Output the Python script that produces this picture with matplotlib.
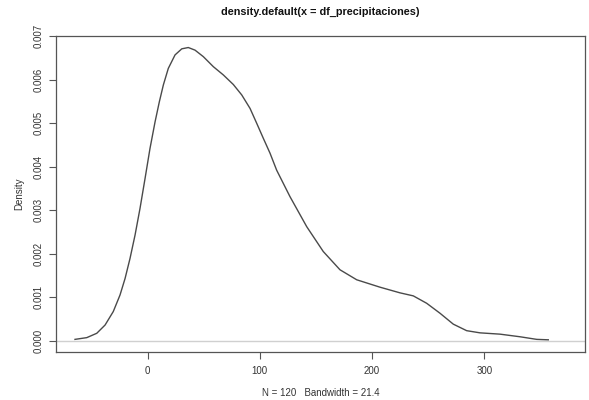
import matplotlib.pyplot as plt

# density curve
dens_x = [-64.6, -54.1, -45.2, -37.8, -30.5, -24.5, -20.0, -15.6, -11.1, -6.7,
          -2.2, 2.2, 6.7, 10.5, 14.1, 18.5, 24.5, 30.5, 36.3, 42.3,
          49.7, 58.6, 67.5, 76.4, 83.9, 91.3, 97.2, 103.0, 109.1, 115.0,
          126.9, 141.8, 156.5, 171.4, 186.3, 207.0, 224.8, 236.7, 248.6, 260.5,
          272.3, 284.2, 296.1, 313.9, 331.7, 346.6, 356.9]
dens_y = [0.00003, 0.00007, 0.00017, 0.00036, 0.00067, 0.00105, 0.00143, 0.00189,
          0.00243, 0.00304, 0.00373, 0.00442, 0.00503, 0.00549, 0.00588, 0.00626,
          0.00657, 0.00671, 0.00674, 0.00668, 0.00653, 0.00630, 0.00611, 0.00589,
          0.00565, 0.00534, 0.00500, 0.00466, 0.00431, 0.00392, 0.00331, 0.00262,
          0.00205, 0.00163, 0.00140, 0.00123, 0.00110, 0.00103, 0.00086, 0.00063,
          0.00038, 0.00023, 0.00018, 0.00015, 0.00009, 0.00003, 0.00002]

x_ticks = [0, 100, 200, 300]
y_ticks = [0.000, 0.001, 0.002, 0.003, 0.004, 0.005, 0.006, 0.007]

title = "density.default(x = df_precipitaciones)"
xlab = "N = 120   Bandwidth = 21.4"
ylab = "Density"

plt.rcParams['font.family'] = ['Liberation Sans', 'DejaVu Sans']
txt = '#333333'

fig = plt.figure(figsize=(5.89, 4.0), dpi=100)
ax = fig.add_axes([0.0951, 0.1208, 0.8981, 0.7892])

ax.axhline(0, color='#d0d0d0', linewidth=1.0, zorder=1)
ax.plot(dens_x, dens_y, color='#4a4a4a', linewidth=1.0, zorder=2,
        solid_joinstyle='round')

ax.set_xlim(-81.5, 389.6)
ax.set_ylim(-0.000253, 0.007005)

ax.set_xticks(x_ticks)
ax.set_xticklabels([str(v) for v in x_ticks])
ax.set_yticks(y_ticks)
ax.set_yticklabels(['%.3f' % v for v in y_ticks], rotation=90, va='center')

ax.tick_params(axis='both', direction='out', length=5, width=0.8,
               colors='#555555', labelcolor=txt, labelsize=7)
ax.tick_params(axis='x', pad=5)
ax.tick_params(axis='y', pad=4)
for s in ax.spines.values():
    s.set_color('#555555')
    s.set_linewidth(0.9)

ax.set_title(title, fontsize=7.8, fontweight='bold', color='#111111', pad=15)
ax.set_xlabel(xlab, fontsize=7, color=txt, labelpad=9)
ax.set_ylabel(ylab, fontsize=7, color=txt, labelpad=7)

fig.savefig('out.png', dpi=100)
